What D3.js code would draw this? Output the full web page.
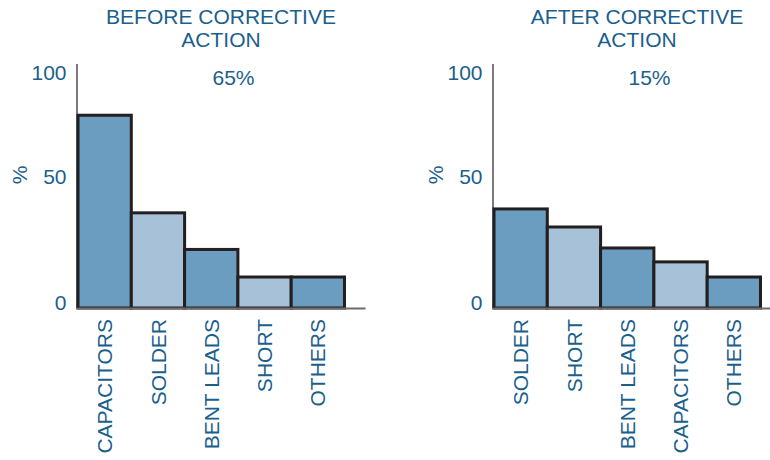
<!DOCTYPE html>
<html>
<head>
<meta charset="utf-8">
<script src="https://cdn.jsdelivr.net/npm/d3@7"></script>
<style>
  html, body { margin: 0; padding: 0; background: #ffffff; }
  svg text { font-family: "Liberation Sans", Arial, Helvetica, sans-serif; fill: #1b5f8c; }
</style>
</head>
<body>
<svg id="chart" width="770" height="460"></svg>
<script>
// ---- data ----
const beforeCategories = ["CAPACITORS", "SOLDER", "BENT LEADS", "SHORT", "OTHERS"];
const beforeValues = [79, 39, 24, 12.7, 12.7];
const afterCategories = ["SOLDER", "SHORT", "BENT LEADS", "CAPACITORS", "OTHERS"];
const afterValues = [40.6, 33.2, 24.6, 18.9, 12.7];
const yTicks = [0, 50, 100];
const panelTitles = [["BEFORE CORRECTIVE", "ACTION"], ["AFTER CORRECTIVE", "ACTION"]];
const panelTotals = ["65%", "15%"];
const yAxisLabel = "%";

const svg = d3.select("#chart");
const darkFill = "#6b9dc0", lightFill = "#a6c1d8";
const fontSize = 21;

function panel(axisX, cats, vals, title, total) {
  const g = svg.append("g");
  const x = d3.scaleBand().domain(cats).range([axisX, axisX + 266.5]).padding(0);
  const y = d3.scaleLinear().domain([0, 100]).range([308, 64]);

  // bars
  g.selectAll("rect.bar").data(cats).enter().append("rect")
    .attr("class", "bar")
    .attr("x", d => x(d) + 1.5)
    .attr("y", (d, i) => y(vals[i]))
    .attr("width", x.bandwidth())
    .attr("height", (d, i) => y(0) - y(vals[i]))
    .attr("fill", (d, i) => i % 2 === 0 ? darkFill : lightFill)
    .attr("stroke", "#231f20")
    .attr("stroke-width", 3);

  // baseline
  g.append("line")
    .attr("x1", axisX).attr("x2", axisX + 289)
    .attr("y1", y(0) + 0.5).attr("y2", y(0) + 0.5)
    .attr("stroke", "#6d6d6d").attr("stroke-width", 2);

  // y axis line
  g.append("line")
    .attr("x1", axisX + 0.5).attr("x2", axisX + 0.5)
    .attr("y1", y(100)).attr("y2", y(0))
    .attr("stroke", "#231f20").attr("stroke-width", 1.2);

  // y tick labels
  g.selectAll("text.tick").data(yTicks).enter().append("text")
    .attr("class", "tick")
    .attr("x", axisX - 10)
    .attr("y", d => y(d))
    .attr("dy", d => d === 100 ? "0.74em" : (d === 0 ? "0.1em" : "-0.1em"))
    .attr("text-anchor", "end")
    .style("font-size", fontSize + "px")
    .text(d => d);

  // y axis label
  g.append("text")
    .attr("transform", `translate(${axisX - 57},175) rotate(-90)`)
    .attr("text-anchor", "middle")
    .attr("dy", "0.35em")
    .style("font-size", fontSize + "px")
    .text(yAxisLabel);

  // category labels
  g.selectAll("text.cat").data(cats).enter().append("text")
    .attr("class", "cat")
    .attr("transform", d => `translate(${x(d) + x.bandwidth() / 2 + 1.5},319) rotate(-90)`)
    .attr("text-anchor", "end")
    .attr("dy", "0.36em")
    .style("font-size", fontSize + "px")
    .text(d => d);

  // title
  const t = g.append("text")
    .attr("text-anchor", "middle")
    .style("font-size", fontSize + "px");
  title.forEach((line, i) => {
    t.append("tspan").attr("x", axisX + 144.5).attr("y", 24 + i * 23.3).text(line);
  });

  // total
  g.append("text")
    .attr("x", axisX + 157).attr("y", 85)
    .attr("text-anchor", "middle")
    .style("font-size", fontSize + "px")
    .text(total);
}

panel(76.5, beforeCategories, beforeValues, panelTitles[0], panelTotals[0]);
panel(492.5, afterCategories, afterValues, panelTitles[1], panelTotals[1]);
</script>
</body>
</html>
